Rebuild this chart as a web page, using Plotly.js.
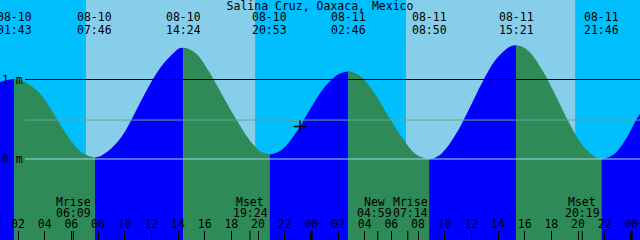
<!DOCTYPE html>
<html><head><meta charset="utf-8">
<script src="https://cdn.plot.ly/plotly-3.0.1.min.js"></script>
<style>html,body{margin:0;padding:0;background:#00BFFF;overflow:hidden}#chart{width:640px;height:240px}</style>
</head><body><div id="chart"></div>
<script>
// ---- data ----
const stationName = 'Salina Cruz, Oaxaca, Mexico';

const curveTimes = [
  '2018-08-10 00:39','2018-08-10 01:23','2018-08-10 01:43',
  '2018-08-10 02:03','2018-08-10 02:43','2018-08-10 03:43','2018-08-10 04:43','2018-08-10 05:43','2018-08-10 06:43','2018-08-10 07:26','2018-08-10 07:46',
  '2018-08-10 08:06','2018-08-10 08:46','2018-08-10 09:46','2018-08-10 10:46','2018-08-10 11:46','2018-08-10 12:46','2018-08-10 13:46','2018-08-10 14:04','2018-08-10 14:24',
  '2018-08-10 14:44','2018-08-10 15:24','2018-08-10 16:24','2018-08-10 17:24','2018-08-10 18:24','2018-08-10 19:24','2018-08-10 20:13','2018-08-10 20:33','2018-08-10 20:53',
  '2018-08-10 21:13','2018-08-10 21:53','2018-08-10 22:53','2018-08-10 23:53','2018-08-11 00:53','2018-08-11 01:53','2018-08-11 02:26','2018-08-11 02:46',
  '2018-08-11 03:06','2018-08-11 03:46','2018-08-11 04:46','2018-08-11 05:46','2018-08-11 06:46','2018-08-11 07:46','2018-08-11 08:30','2018-08-11 08:50',
  '2018-08-11 09:10','2018-08-11 09:50','2018-08-11 10:50','2018-08-11 11:50','2018-08-11 12:50','2018-08-11 13:50','2018-08-11 14:41','2018-08-11 15:01','2018-08-11 15:21',
  '2018-08-11 15:41','2018-08-11 16:21','2018-08-11 17:21','2018-08-11 18:21','2018-08-11 19:21','2018-08-11 20:21','2018-08-11 21:26','2018-08-11 21:46',
  '2018-08-11 22:06','2018-08-11 22:46','2018-08-11 23:46','2018-08-12 00:21','2018-08-12 00:39'
];
const curveHeights = [
  0.97, 1.00, 1.01,
  1.00, 0.95, 0.81, 0.56, 0.29, 0.09, 0.03, 0.02,
  0.03, 0.10, 0.28, 0.58, 0.90, 1.17, 1.35, 1.39, 1.40,
  1.39, 1.32, 1.08, 0.78, 0.49, 0.23, 0.09, 0.07, 0.06,
  0.07, 0.13, 0.34, 0.62, 0.88, 1.05, 1.09, 1.10,
  1.09, 1.03, 0.82, 0.54, 0.28, 0.07, 0.01, 0.00,
  0.01, 0.08, 0.31, 0.63, 0.97, 1.25, 1.39, 1.42, 1.43,
  1.42, 1.35, 1.11, 0.79, 0.45, 0.17, 0.01, 0.00,
  0.01, 0.07, 0.30, 0.49, 0.57
];

const hiloTimes = ['2018-08-10 01:43','2018-08-10 07:46','2018-08-10 14:24','2018-08-10 20:53',
                   '2018-08-11 02:46','2018-08-11 08:50','2018-08-11 15:21','2018-08-11 21:46'];
const hiloHeights = [1.01, 0.02, 1.40, 0.06, 1.10, 0.00, 1.43, 0.00];

const dayStart = ['2018-08-10 07:06','2018-08-11 07:06'];
const dayEnd   = ['2018-08-10 19:47','2018-08-11 19:47'];

const moonTimes  = ['2018-08-10 06:09','2018-08-10 19:24','2018-08-11 04:59','2018-08-11 07:14','2018-08-11 20:19'];
const moonLabels = ['Mrise','Mset','New','Mrise','Mset'];

const midnightTimes = ['2018-08-11 00:00','2018-08-12 00:00'];

const levelValues = [1, 0.49, 0];
const levelLabels = ['1 m', '', '0 m'];

const nowTime = ['2018-08-10 23:09'];
const nowHeight = [0.41];

const xRange = ['2018-08-10 00:39','2018-08-12 00:39'];
const yRange = [-1.019, 2.0];

// ---- styles ----
const FONT = 'DejaVu Sans Mono';
const FS = 11.5;
const C = {night:'#00BFFF', day:'#87CEEB', flood:'#0000FF', ebb:'#2E8B57',
           levels:['#000000','#5FAA96','#9ED8EA'], fg:'#000000'};

// ---- build traces: one filled segment between consecutive turning points ----
const traces = [];
const base = yRange[0] - 0.3;
const cut = [];
curveTimes.forEach((t,i)=>{ if (hiloTimes.includes(t)) cut.push(i); });
const bounds = [0, ...cut, curveTimes.length-1];
for (let k=0;k<bounds.length-1;k++){
  const a = bounds[k], b = bounds[k+1];
  if (b<=a) continue;
  const xs = curveTimes.slice(a,b+1), ys = curveHeights.slice(a,b+1);
  const rising = ys[ys.length-1] > ys[0];
  traces.push({x:[xs[0], xs[xs.length-1]], y:[base, base], mode:'lines', line:{width:0},
               hoverinfo:'skip', showlegend:false});
  traces.push({x:xs, y:ys, mode:'lines', line:{width:0, shape:'spline', smoothing:1},
               fill:'tonexty', fillcolor: rising ? C.flood : C.ebb, hoverinfo:'skip', showlegend:false});
}
traces.push({x:nowTime, y:nowHeight, mode:'markers',
  marker:{symbol:'cross-thin', size:9, color:C.fg, line:{color:C.fg, width:1.5}}, showlegend:false});

// ---- shapes ----
const shapes = [];
dayStart.forEach((s,i)=>shapes.push({type:'rect', xref:'x', yref:'paper', x0:s, x1:dayEnd[i], y0:0, y1:1,
  fillcolor:C.day, line:{width:0}, layer:'below'}));
levelValues.forEach((v,i)=>shapes.push({type:'line', xref:'paper', yref:'y', x0:25/640, x1:1, y0:v, y1:v,
  line:{color:C.levels[i], width:1}, layer:'above'}));
moonTimes.forEach(t=>shapes.push({type:'line', xref:'x', yref:'paper', x0:t, x1:t, y0:0, y1:9/240,
  line:{color:C.fg, width:1}, layer:'above'}));
midnightTimes.forEach(t=>shapes.push({type:'line', xref:'x', yref:'paper', x0:t, x1:t, y0:0, y1:9/240,
  line:{color:C.fg, width:2.5}, layer:'above'}));

// ---- annotations ----
const ann = [];
const font = {family:FONT, size:FS, color:C.fg};
const lab = (o)=>Object.assign({showarrow:false, font, height:10, borderpad:0, yanchor:'middle'}, o);
hiloTimes.forEach(t=>{
  ann.push(lab({x:t, xref:'x', yref:'paper', y:1-17.5/240, text:t.slice(5,10)}));
  ann.push(lab({x:t, xref:'x', yref:'paper', y:1-29.5/240, text:t.slice(11,16)}));
});
// moon labels, nudged apart when they would overlap
const toMs = s => Date.parse(s.replace(' ','T')+':00Z');
const pxPerMs = 640/(toMs(xRange[1])-toMs(xRange[0]));
const charW = FS*0.602;
const shift = moonTimes.map(()=>0);
for (let i=1;i<moonTimes.length;i++){
  const gap = (toMs(moonTimes[i])-toMs(moonTimes[i-1]))*pxPerMs;
  const need = (Math.max(5,moonLabels[i].length)+Math.max(5,moonLabels[i-1].length))*charW/2 + 1;
  if (gap < need){ const s=(need-gap)/2; shift[i-1]-=s; shift[i]+=s; }
}
moonTimes.forEach((t,i)=>{
  ann.push(lab({x:t, xref:'x', yref:'paper', y:1-201.5/240, xshift:shift[i], text:moonLabels[i]}));
  ann.push(lab({x:t, xref:'x', yref:'paper', y:1-213/240, xshift:shift[i], text:t.slice(11,16)}));
});
levelValues.forEach((v,i)=>{ if (levelLabels[i]) ann.push(lab({x:0, xref:'paper', xanchor:'left', xshift:1, y:v, yref:'y',
  text:levelLabels[i]})); });

const layout = {
  width:640, height:240, margin:{l:0,r:0,t:0,b:0,pad:0},
  paper_bgcolor:C.night, plot_bgcolor:C.night, showlegend:false,
  title:{text:stationName, x:0.5, xanchor:'center', y:1-6/240, yanchor:'middle', font},
  xaxis:{type:'date', range:xRange, showgrid:false, zeroline:false, showline:false,
    ticks:'inside', ticklen:9, tickwidth:1, tickcolor:C.fg, ticklabelposition:'inside',
    tick0:'2018-08-10 00:00', dtick:2*3600*1000, tickformat:'%H', tickfont:font, fixedrange:true},
  yaxis:{range:yRange, showgrid:false, zeroline:false, showline:false, showticklabels:false, ticks:'', fixedrange:true},
  shapes, annotations:ann, hovermode:false
};
Plotly.newPlot('chart', traces, layout, {staticPlot:true, displayModeBar:false});
</script></body></html>
